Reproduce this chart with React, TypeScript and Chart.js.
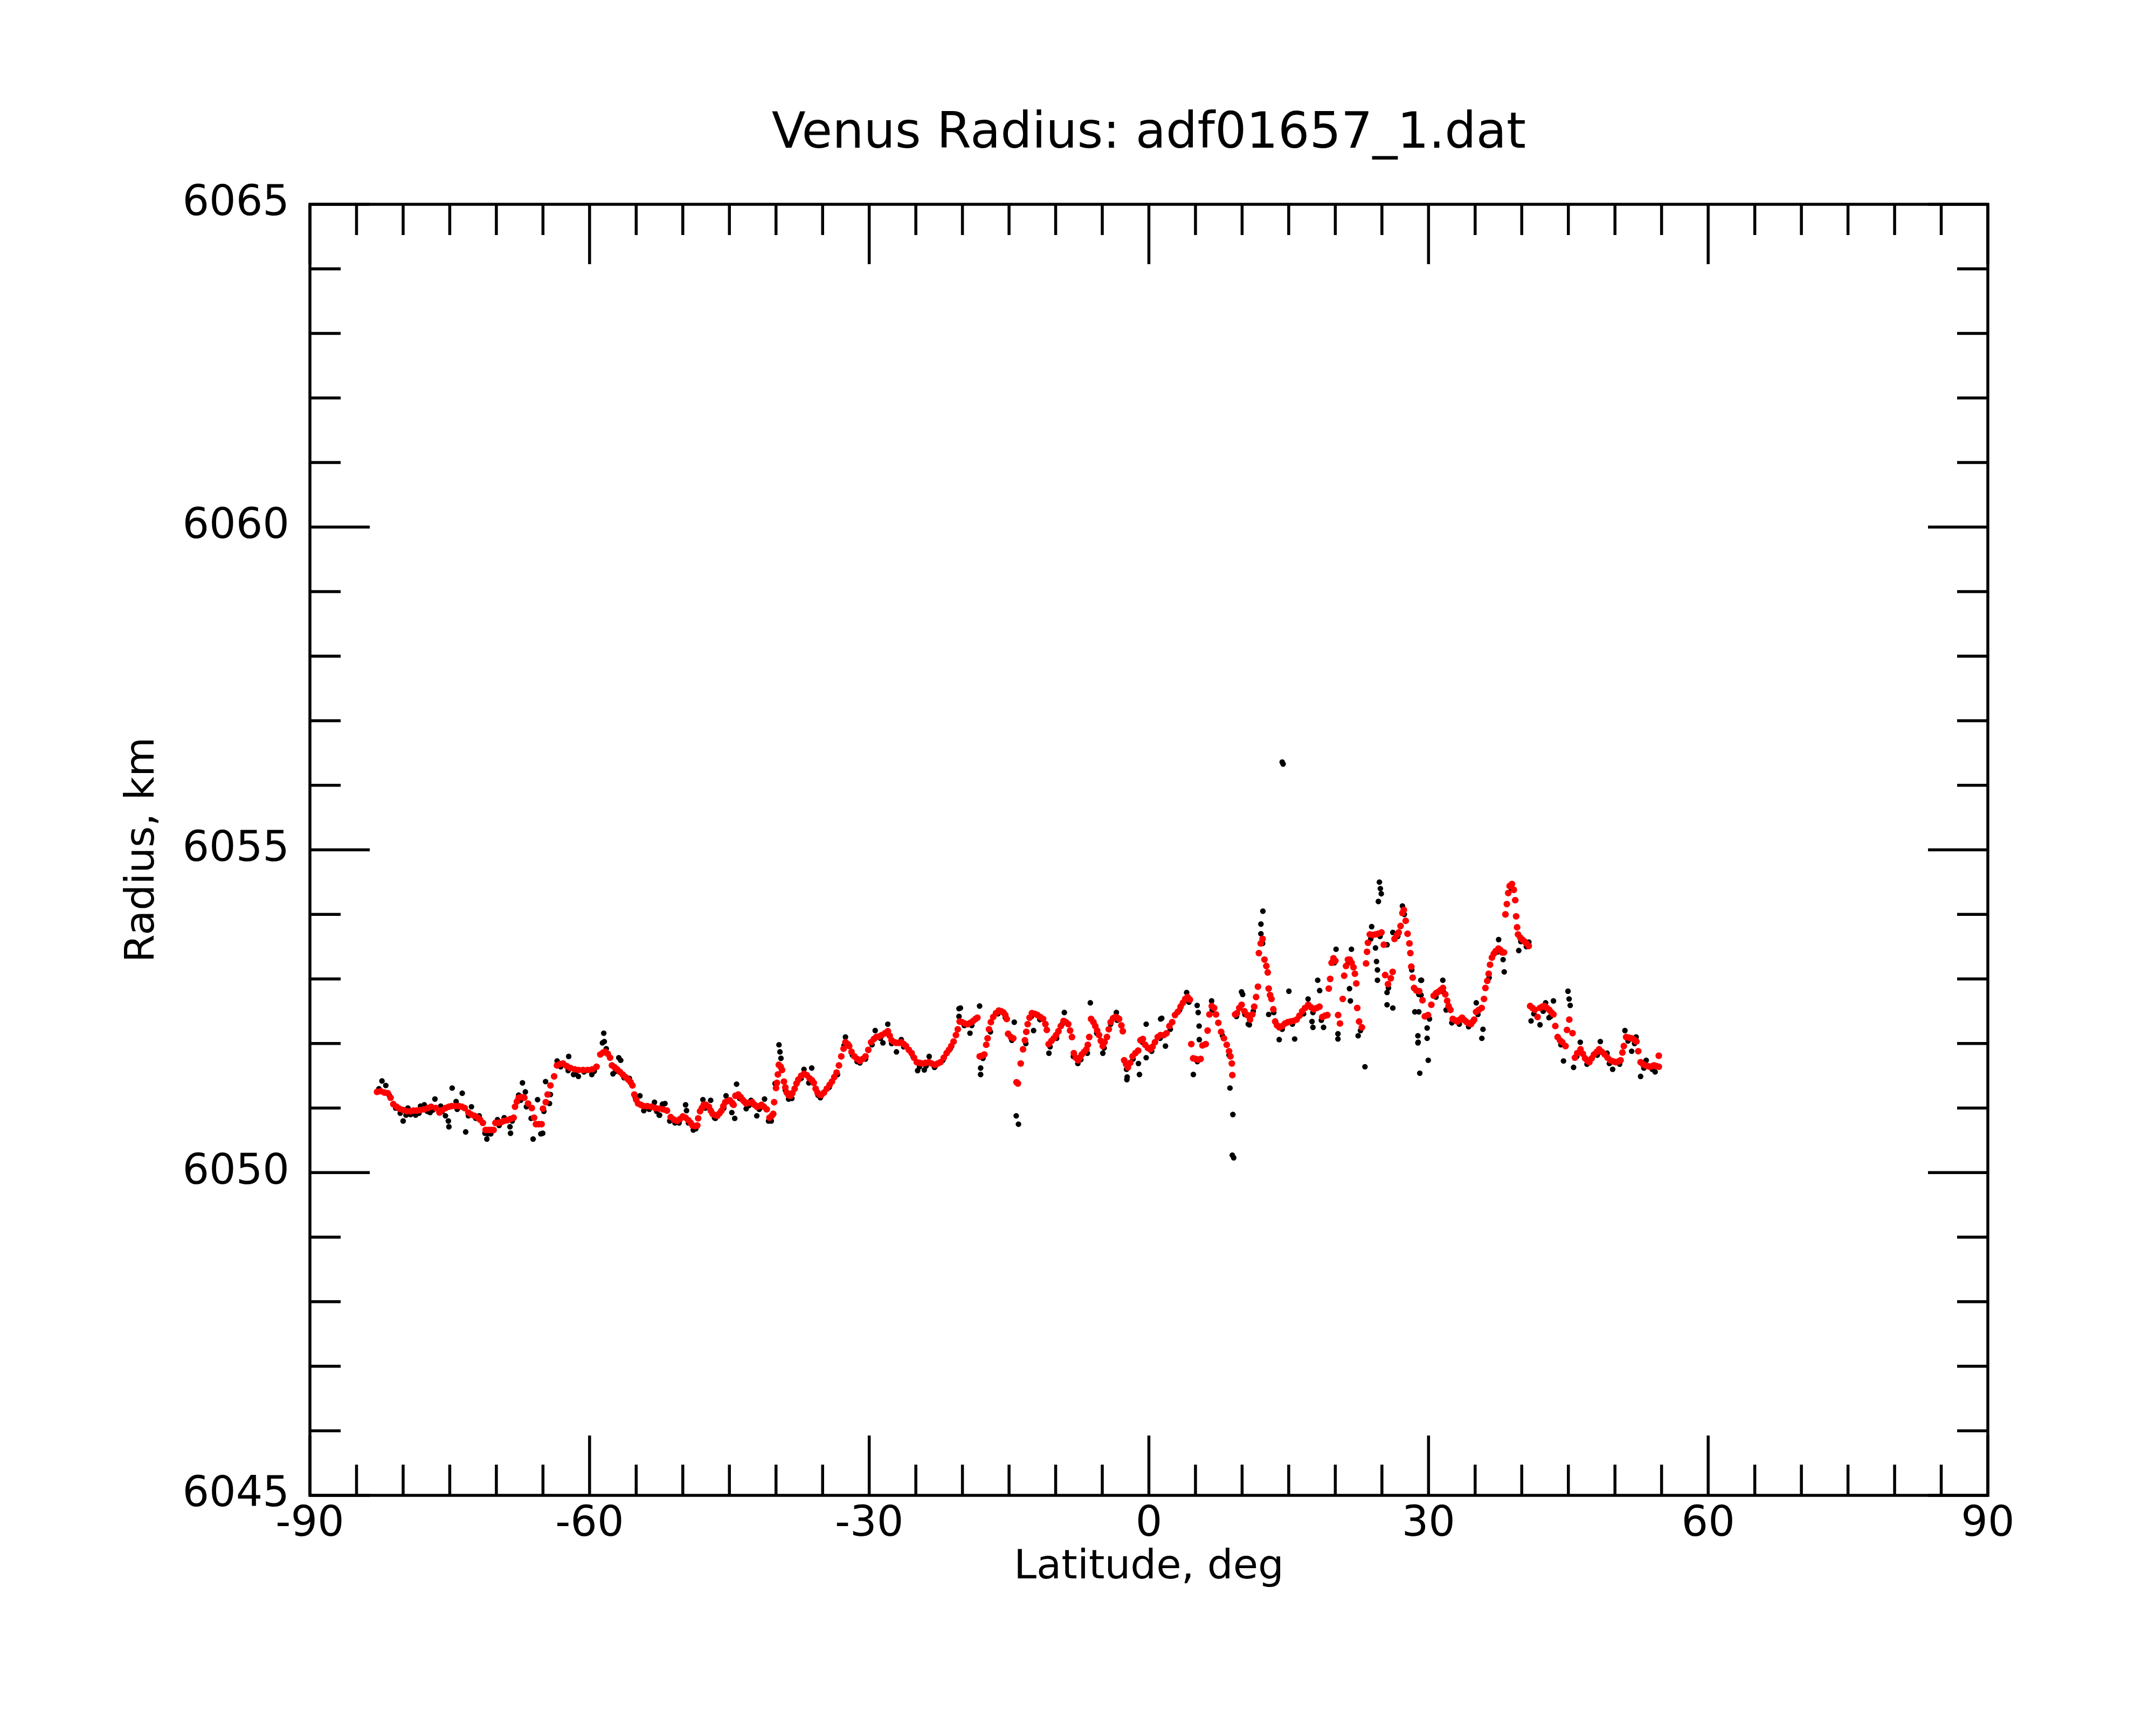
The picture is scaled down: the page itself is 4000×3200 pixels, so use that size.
import { useEffect, useRef } from "react";
import { Chart, registerables } from "chart.js";

Chart.register(...registerables);

const TITLE = "Venus Radius: adf01657_1.dat";
const X_LABEL = "Latitude, deg";
const Y_LABEL = "Radius, km";

const LAT_MIN = -90;
const LAT_MAX = 90;
const R_MIN = 6045;
const R_MAX = 6065;
const X_MAJOR = 30;
const X_MINOR = 5;
const Y_MAJOR = 5;
const Y_MINOR = 1;

// smoothed profile (red) [latitude, radius]
const smoothed: [number, number][] = [
  [-82.8, 6051.25], [-82.4, 6051.26], [-82.0, 6051.24], [-81.65, 6051.23], [-81.35, 6051.16],
  [-81.05, 6051.06], [-80.7, 6051.02], [-80.4, 6050.99], [-80.0, 6050.97], [-79.6, 6050.95],
  [-79.2, 6050.95], [-78.9, 6050.96], [-78.55, 6050.96], [-78.15, 6050.97], [-77.75, 6050.98],
  [-77.35, 6051.0], [-77.0, 6051.02], [-76.5, 6051.0], [-76.1, 6050.93], [-75.8, 6050.97],
  [-75.45, 6051.0], [-75.1, 6051.02], [-74.8, 6051.03], [-74.4, 6051.03], [-74.0, 6051.03],
  [-73.7, 6051.02], [-73.4, 6051.0], [-73.0, 6050.93], [-72.7, 6050.9], [-72.35, 6050.88],
  [-72.0, 6050.85], [-71.75, 6050.82], [-71.45, 6050.77], [-71.15, 6050.66], [-70.85, 6050.66],
  [-70.55, 6050.66], [-70.3, 6050.66], [-70.1, 6050.77], [-69.8, 6050.77], [-69.5, 6050.78],
  [-69.2, 6050.8], [-68.85, 6050.81], [-68.5, 6050.83], [-68.15, 6050.85], [-68.0, 6051.02],
  [-67.8, 6051.1], [-67.6, 6051.16], [-67.3, 6051.17], [-67.0, 6051.16], [-66.6, 6051.07],
  [-66.2, 6051.0], [-65.95, 6050.85], [-65.75, 6050.75], [-65.45, 6050.75], [-65.15, 6050.75],
  [-65.0, 6050.99], [-64.7, 6051.09], [-64.5, 6051.21], [-64.2, 6051.35], [-63.8, 6051.49],
  [-63.5, 6051.66], [-63.2, 6051.68], [-62.85, 6051.69], [-62.45, 6051.65], [-62.05, 6051.62],
  [-61.6, 6051.6], [-61.2, 6051.59], [-60.7, 6051.59], [-60.2, 6051.59], [-59.7, 6051.6],
  [-59.25, 6051.64], [-58.85, 6051.83], [-58.55, 6051.86], [-58.3, 6051.87], [-58.05, 6051.84],
  [-57.8, 6051.78], [-57.6, 6051.66], [-57.3, 6051.63], [-57.05, 6051.6], [-56.75, 6051.56],
  [-56.45, 6051.52], [-56.15, 6051.48], [-55.85, 6051.44], [-55.6, 6051.4], [-55.4, 6051.35],
  [-55.2, 6051.21], [-55.0, 6051.13], [-54.8, 6051.07], [-54.5, 6051.05], [-54.2, 6051.03],
  [-53.8, 6051.03], [-53.35, 6051.02], [-52.95, 6051.0], [-52.55, 6050.99], [-52.1, 6050.98],
  [-51.7, 6050.96], [-51.3, 6050.86], [-50.95, 6050.82], [-50.6, 6050.8], [-50.3, 6050.83],
  [-50.0, 6050.87], [-49.7, 6050.85], [-49.4, 6050.81], [-49.15, 6050.77], [-48.95, 6050.73],
  [-48.7, 6050.72], [-48.45, 6050.73], [-48.35, 6050.84], [-48.15, 6050.95], [-47.95, 6051.0],
  [-47.75, 6051.05], [-47.5, 6051.05], [-47.2, 6051.02], [-47.0, 6050.96], [-46.8, 6050.91],
  [-46.55, 6050.89], [-46.3, 6050.88], [-46.05, 6050.92], [-45.85, 6050.96], [-45.65, 6051.03],
  [-45.45, 6051.09], [-45.2, 6051.11], [-44.95, 6051.12], [-44.7, 6051.08], [-44.55, 6051.05],
  [-44.35, 6051.19], [-44.05, 6051.21], [-43.8, 6051.17], [-43.6, 6051.13], [-43.4, 6051.1],
  [-43.2, 6051.07], [-42.9, 6051.08], [-42.55, 6051.09], [-42.3, 6051.05], [-42.05, 6051.02],
  [-41.8, 6051.03], [-41.55, 6051.05], [-41.3, 6051.02], [-41.0, 6050.98], [-40.7, 6050.85],
  [-40.45, 6050.88], [-40.3, 6050.91], [-40.2, 6051.09], [-40.0, 6051.31], [-39.9, 6051.39],
  [-39.8, 6051.52], [-39.7, 6051.67], [-39.5, 6051.64], [-39.35, 6051.59], [-39.15, 6051.41],
  [-39.0, 6051.32], [-38.85, 6051.24], [-38.65, 6051.2], [-38.45, 6051.19], [-38.25, 6051.23],
  [-38.0, 6051.3], [-37.8, 6051.38], [-37.6, 6051.44], [-37.3, 6051.5], [-37.0, 6051.53],
  [-36.7, 6051.51], [-36.4, 6051.46], [-36.15, 6051.43], [-35.95, 6051.39], [-35.75, 6051.3],
  [-35.55, 6051.24], [-35.35, 6051.21], [-35.15, 6051.2], [-34.85, 6051.24], [-34.55, 6051.3],
  [-34.25, 6051.36], [-34.0, 6051.41], [-33.75, 6051.48], [-33.5, 6051.55], [-33.25, 6051.66],
  [-33.0, 6051.8], [-32.75, 6051.92], [-32.55, 6052.02], [-32.3, 6051.99], [-32.15, 6051.96],
  [-31.9, 6051.87], [-31.6, 6051.8], [-31.3, 6051.76], [-31.0, 6051.73], [-30.7, 6051.76],
  [-30.4, 6051.8], [-30.1, 6051.9], [-29.8, 6052.02], [-29.5, 6052.07], [-29.25, 6052.1],
  [-28.95, 6052.11], [-28.65, 6052.13], [-28.3, 6052.16], [-28.0, 6052.19], [-27.8, 6052.12],
  [-27.6, 6052.05], [-27.3, 6052.02], [-27.1, 6052.01], [-26.8, 6052.01], [-26.55, 6052.02],
  [-26.3, 6051.99], [-26.05, 6051.96], [-25.75, 6051.9], [-25.45, 6051.85], [-25.2, 6051.78],
  [-24.9, 6051.71], [-24.6, 6051.7], [-24.3, 6051.69], [-23.95, 6051.7], [-23.6, 6051.71],
  [-23.3, 6051.69], [-22.95, 6051.67], [-22.65, 6051.69], [-22.35, 6051.71], [-22.0, 6051.78],
  [-21.7, 6051.85], [-21.45, 6051.9], [-21.2, 6051.96], [-20.95, 6052.03], [-20.7, 6052.13],
  [-20.5, 6052.22], [-20.3, 6052.34], [-20.05, 6052.33], [-19.75, 6052.31], [-19.45, 6052.3],
  [-19.15, 6052.32], [-18.85, 6052.35], [-18.6, 6052.38], [-18.4, 6052.4], [-18.15, 6051.8],
  [-17.9, 6051.81], [-17.65, 6051.83], [-17.45, 6051.98], [-17.3, 6052.08], [-17.15, 6052.22],
  [-16.95, 6052.33], [-16.7, 6052.41], [-16.4, 6052.47], [-16.1, 6052.51], [-15.85, 6052.5],
  [-15.6, 6052.48], [-15.4, 6052.44], [-15.25, 6052.38], [-15.1, 6052.15], [-14.8, 6052.1],
  [-14.55, 6052.08], [-14.2, 6051.4], [-14.05, 6051.38], [-13.75, 6051.69], [-13.5, 6051.91],
  [-13.3, 6052.05], [-13.15, 6052.18], [-13.0, 6052.3], [-12.8, 6052.4], [-12.55, 6052.47],
  [-12.25, 6052.46], [-11.95, 6052.44], [-11.65, 6052.41], [-11.35, 6052.38], [-11.1, 6052.3],
  [-10.95, 6052.21], [-10.75, 6051.99], [-10.45, 6052.04], [-10.2, 6052.08], [-9.95, 6052.13],
  [-9.7, 6052.19], [-9.45, 6052.27], [-9.15, 6052.35], [-8.9, 6052.33], [-8.65, 6052.3],
  [-8.45, 6052.2], [-8.25, 6052.1], [-8.05, 6051.85], [-7.85, 6051.78], [-7.6, 6051.74],
  [-7.4, 6051.78], [-7.2, 6051.83], [-6.95, 6051.87], [-6.7, 6051.91], [-6.55, 6051.98],
  [-6.4, 6052.1], [-6.2, 6052.38], [-5.95, 6052.33], [-5.75, 6052.27], [-5.55, 6052.2],
  [-5.35, 6052.13], [-5.15, 6052.04], [-4.95, 6051.96], [-4.75, 6052.02], [-4.5, 6052.1],
  [-4.3, 6052.22], [-4.1, 6052.33], [-3.85, 6052.39], [-3.6, 6052.41], [-3.4, 6052.4],
  [-3.2, 6052.38], [-2.95, 6052.28], [-2.8, 6052.19], [-2.65, 6051.74], [-2.45, 6051.68],
  [-2.25, 6051.63], [-2.0, 6051.7], [-1.75, 6051.8], [-1.45, 6051.85], [-1.15, 6051.89],
  [-0.9, 6052.05], [-0.65, 6052.07], [-0.4, 6051.98], [-0.1, 6051.93], [0.15, 6051.91],
  [0.4, 6051.95], [0.65, 6052.02], [0.95, 6052.1], [1.25, 6052.13], [1.6, 6052.13],
  [1.9, 6052.16], [2.2, 6052.27], [2.5, 6052.33], [2.8, 6052.44], [3.1, 6052.49],
  [3.4, 6052.57], [3.65, 6052.63], [3.9, 6052.69], [4.15, 6052.72], [4.4, 6052.68],
  [4.55, 6051.99], [4.75, 6051.77], [5.0, 6051.76], [5.3, 6051.75], [5.55, 6051.76],
  [5.75, 6051.97], [6.1, 6051.99], [6.3, 6052.2], [6.5, 6052.45], [6.75, 6052.58],
  [7.0, 6052.55], [7.2, 6052.45], [7.45, 6052.32], [7.75, 6052.18], [8.05, 6052.08],
  [8.35, 6051.98], [8.6, 6051.88], [8.75, 6051.8], [8.9, 6051.69], [8.95, 6051.51],
  [9.25, 6052.45], [9.45, 6052.47], [9.7, 6052.55], [9.95, 6052.6], [10.25, 6052.5],
  [10.55, 6052.44], [10.85, 6052.37], [11.1, 6052.45], [11.3, 6052.57], [11.5, 6052.72],
  [11.7, 6052.88], [11.8, 6053.4], [12.0, 6053.55], [12.2, 6053.62], [12.4, 6053.3],
  [12.6, 6053.2], [12.75, 6053.1], [12.85, 6052.85], [13.0, 6052.75], [13.15, 6052.69],
  [13.35, 6052.53], [13.55, 6052.34], [13.75, 6052.28], [14.0, 6052.25], [14.3, 6052.27],
  [14.6, 6052.31], [14.9, 6052.33], [15.2, 6052.34], [15.5, 6052.35], [15.85, 6052.37],
  [16.15, 6052.43], [16.45, 6052.5], [16.75, 6052.55], [17.1, 6052.6], [17.4, 6052.56],
  [17.7, 6052.53], [18.0, 6052.55], [18.3, 6052.57], [18.6, 6052.41], [18.9, 6052.43],
  [19.15, 6052.44], [19.3, 6052.85], [19.45, 6053.0], [19.6, 6053.25], [19.8, 6053.32],
  [20.0, 6053.28], [20.3, 6052.44], [20.5, 6052.31], [20.8, 6052.69], [20.95, 6053.05],
  [21.15, 6053.2], [21.35, 6053.3], [21.55, 6053.3], [21.75, 6053.25], [21.95, 6053.18],
  [22.1, 6053.08], [22.25, 6052.93], [22.35, 6052.55], [22.55, 6052.34], [22.85, 6052.25],
  [23.3, 6053.24], [23.4, 6053.42], [23.5, 6053.56], [23.7, 6053.69], [24.0, 6053.68],
  [24.3, 6053.69], [24.6, 6053.7], [24.95, 6053.72], [25.2, 6053.53], [25.35, 6053.06],
  [25.65, 6052.92], [25.95, 6053.01], [26.15, 6053.11], [26.35, 6053.62], [26.6, 6053.68],
  [26.8, 6053.72], [27.0, 6053.82], [27.2, 6054.02], [27.35, 6054.07], [27.55, 6053.9],
  [27.75, 6053.7], [27.95, 6053.55], [28.05, 6053.4], [28.15, 6053.19], [28.3, 6053.02],
  [28.45, 6052.86], [28.7, 6052.82], [29.0, 6052.81], [29.35, 6052.67], [29.6, 6052.42],
  [29.95, 6052.44], [30.3, 6052.6], [30.55, 6052.74], [30.8, 6052.78], [31.05, 6052.8],
  [31.3, 6052.83], [31.55, 6052.86], [31.8, 6052.76], [32.0, 6052.66], [32.15, 6052.58],
  [32.35, 6052.52], [32.6, 6052.38], [32.85, 6052.36], [33.1, 6052.34], [33.35, 6052.37],
  [33.6, 6052.4], [33.85, 6052.36], [34.1, 6052.33], [34.35, 6052.31], [34.55, 6052.3],
  [34.75, 6052.34], [34.9, 6052.37], [35.1, 6052.49], [35.4, 6052.52], [35.7, 6052.55],
  [35.95, 6052.69], [36.1, 6052.86], [36.3, 6052.97], [36.45, 6053.08], [36.6, 6053.22],
  [36.8, 6053.33], [37.0, 6053.39], [37.2, 6053.43], [37.5, 6053.47], [37.7, 6053.45],
  [37.9, 6053.41], [38.1, 6053.41], [38.25, 6054.0], [38.4, 6054.16], [38.55, 6054.33],
  [38.7, 6054.44], [38.95, 6054.47], [39.15, 6054.38], [39.3, 6054.22], [39.4, 6053.97],
  [39.5, 6053.8], [39.6, 6053.69], [39.85, 6053.64], [40.05, 6053.61], [40.3, 6053.58],
  [40.5, 6053.55], [40.75, 6053.51], [40.9, 6052.58], [41.15, 6052.55], [41.4, 6052.52],
  [41.7, 6052.41], [41.95, 6052.55], [42.2, 6052.57], [42.45, 6052.58], [42.7, 6052.55],
  [42.95, 6052.52], [43.2, 6052.48], [43.4, 6052.45], [43.6, 6052.27], [43.85, 6052.1],
  [44.1, 6052.05], [44.35, 6052.02], [44.7, 6051.96], [44.85, 6052.21], [45.1, 6052.37],
  [45.45, 6052.16], [45.7, 6051.78], [45.95, 6051.85], [46.3, 6051.91], [46.55, 6051.84],
  [46.8, 6051.77], [47.05, 6051.73], [47.25, 6051.71], [47.5, 6051.77], [47.75, 6051.83],
  [48.05, 6051.87], [48.3, 6051.91], [48.6, 6051.87], [48.9, 6051.83], [49.2, 6051.78],
  [49.5, 6051.74], [49.85, 6051.72], [50.1, 6051.71], [50.35, 6051.72], [50.6, 6051.74],
  [50.8, 6051.86], [50.95, 6051.96], [51.2, 6052.1], [51.5, 6052.09], [51.8, 6052.08],
  [52.05, 6052.06], [52.3, 6052.03], [52.5, 6051.88], [52.75, 6051.71], [53.0, 6051.68],
  [53.25, 6051.66], [53.5, 6051.65], [53.75, 6051.64], [54.0, 6051.65], [54.2, 6051.66],
  [54.45, 6051.65], [54.7, 6051.64], [54.7, 6051.81],
];

// raw samples lying along the profile (black)
const rawTrack: [number, number][] = [
  [-81.5, 6051.2], [-80.8, 6051.0], [-79.2, 6050.9], [-78.3, 6050.92], [-77.4, 6050.95],
  [-76.8, 6050.97], [-75.8, 6050.95], [-74.2, 6050.98], [-73.0, 6050.88], [-72.2, 6050.84],
  [-70.9, 6050.6], [-69.7, 6050.73], [-68.3, 6050.8], [-67.4, 6051.12], [-64.9, 6050.95],
  [-63.1, 6051.64], [-62.3, 6051.58], [-61.5, 6051.55], [-60.6, 6051.56], [-59.5, 6051.57],
  [-57.2, 6051.57], [-56.3, 6051.47], [-55.1, 6051.17], [-53.6, 6050.98], [-52.8, 6050.95],
  [-51.4, 6050.8], [-50.4, 6050.77], [-49.4, 6050.77], [-48.6, 6050.68], [-47.6, 6051.0],
  [-46.6, 6050.85], [-45.6, 6051.0], [-44.7, 6051.06], [-43.9, 6051.15], [-42.9, 6051.04],
  [-41.8, 6050.98], [-40.8, 6050.8], [-39.0, 6051.28], [-38.3, 6051.15], [-37.3, 6051.46],
  [-35.5, 6051.2], [-34.3, 6051.32], [-33.4, 6051.52], [-32.7, 6051.97], [-31.8, 6051.82],
  [-31.3, 6051.72], [-30.4, 6051.76], [-29.7, 6051.98], [-28.8, 6052.08], [-27.6, 6052.0],
  [-26.3, 6051.95], [-25.3, 6051.8], [-24.6, 6051.64], [-23.9, 6051.65], [-23.0, 6051.63],
  [-22.1, 6051.74], [-21.3, 6051.92], [-19.8, 6052.28], [-19.0, 6052.28], [-17.8, 6051.77],
  [-17.0, 6052.18], [-16.2, 6052.46], [-15.4, 6052.4], [-14.7, 6052.05], [-13.2, 6052.0],
  [-12.6, 6052.42], [-11.7, 6052.37], [-10.6, 6051.95], [-9.9, 6052.08], [-9.3, 6052.3],
  [-8.1, 6051.8], [-7.3, 6051.75], [-6.6, 6051.85], [-5.6, 6052.16], [-4.8, 6051.93],
  [-4.1, 6052.3], [-3.4, 6052.36], [-2.4, 6051.6], [-1.7, 6051.76], [-0.7, 6052.02],
  [0.3, 6051.88], [1.2, 6052.08], [2.3, 6052.22], [3.3, 6052.52], [4.3, 6052.64],
  [5.2, 6051.72], [6.8, 6052.52], [7.9, 6052.12], [8.6, 6051.82], [9.4, 6052.42],
  [10.3, 6052.45], [11.2, 6052.5], [12.2, 6053.55], [13.4, 6052.48], [14.3, 6052.22],
  [15.4, 6052.3], [16.6, 6052.46], [17.6, 6052.48], [18.5, 6052.36], [19.9, 6053.25],
  [21.4, 6053.25], [22.7, 6052.2], [23.8, 6053.62], [24.8, 6053.66], [25.7, 6052.86],
  [26.7, 6053.66], [27.4, 6054.0], [28.2, 6053.14], [29.2, 6052.75], [30.1, 6052.38],
  [30.8, 6052.72], [31.6, 6052.8], [32.5, 6052.32], [33.3, 6052.3], [34.3, 6052.26],
  [35.3, 6052.45], [36.5, 6053.02], [37.4, 6053.42], [38.9, 6054.4], [39.9, 6053.58],
  [40.5, 6053.5], [41.3, 6052.46], [42.3, 6052.5], [43.1, 6052.42], [44.2, 6051.98],
  [45.9, 6051.8], [47.0, 6051.68], [48.1, 6051.82], [49.4, 6051.69], [50.5, 6051.68],
  [51.4, 6052.04], [52.1, 6052.0], [53.1, 6051.62], [54.0, 6051.6],
];

// raw samples scattered off the profile (black)
const rawScatter: [number, number][] = [
  [-82.6, 6051.3], [-82.27, 6051.42], [-81.86, 6051.35], [-80.31, 6050.92], [-80.0, 6050.8],
  [-79.69, 6050.89], [-79.49, 6051.0], [-78.66, 6050.89], [-78.14, 6051.03], [-77.73, 6051.05],
  [-77.11, 6050.93], [-76.59, 6051.14], [-75.97, 6051.03], [-75.46, 6050.88], [-75.15, 6050.8],
  [-75.09, 6050.71], [-74.74, 6051.31], [-74.32, 6051.1], [-73.66, 6051.23], [-73.29, 6050.63],
  [-72.67, 6051.02], [-71.84, 6050.88], [-71.22, 6050.61], [-71.02, 6050.52], [-70.6, 6050.6],
  [-69.88, 6050.82], [-69.16, 6050.85], [-68.54, 6050.71], [-68.48, 6050.61], [-67.61, 6051.2],
  [-67.2, 6051.39], [-66.89, 6051.25], [-66.78, 6051.02], [-66.27, 6050.84], [-66.06, 6050.52],
  [-65.58, 6051.13], [-65.23, 6050.6], [-65.03, 6050.61], [-64.72, 6051.41], [-64.3, 6051.07],
  [-64.2, 6051.21], [-63.48, 6051.73], [-62.24, 6051.8], [-61.72, 6051.52], [-61.2, 6051.49],
  [-59.76, 6051.52], [-58.62, 6052.01], [-58.48, 6052.16], [-58.42, 6052.03], [-58.21, 6051.92],
  [-57.49, 6051.53], [-56.87, 6051.78], [-56.66, 6051.74], [-56.14, 6051.48], [-55.73, 6051.46],
  [-54.6, 6051.19], [-54.18, 6050.96], [-53.04, 6051.09], [-52.53, 6050.89], [-52.49, 6050.89],
  [-52.18, 6051.06], [-51.91, 6051.07], [-50.84, 6050.77], [-49.7, 6051.05], [-49.6, 6050.96],
  [-48.87, 6050.66], [-47.84, 6051.13], [-47.01, 6051.12], [-46.5, 6050.84], [-45.36, 6051.19],
  [-44.74, 6050.93], [-44.43, 6050.84], [-44.23, 6051.37], [-43.2, 6050.99], [-42.68, 6051.12],
  [-42.06, 6050.88], [-41.23, 6051.14], [-40.51, 6050.8], [-40.1, 6051.38], [-39.68, 6051.98],
  [-39.58, 6051.87], [-39.47, 6051.77], [-38.65, 6051.14], [-37.0, 6051.6], [-36.48, 6051.39],
  [-36.17, 6051.62], [-35.24, 6051.16], [-32.55, 6052.1], [-31.0, 6051.7], [-29.36, 6052.2],
  [-28.53, 6052.01], [-28.01, 6052.3], [-27.08, 6051.87], [-26.56, 6052.06], [-24.81, 6051.58],
  [-24.09, 6051.59], [-23.57, 6051.8], [-22.95, 6051.64], [-20.37, 6052.54], [-20.37, 6052.42],
  [-20.22, 6052.55], [-19.19, 6052.16], [-18.16, 6052.58], [-18.05, 6051.62], [-18.05, 6051.52],
  [-14.44, 6052.33], [-14.23, 6050.88], [-13.99, 6050.75], [-12.37, 6052.2], [-10.72, 6051.85],
  [-9.07, 6052.48], [-7.62, 6051.69], [-6.28, 6052.63], [-4.94, 6051.85], [-3.49, 6052.48],
  [-2.36, 6051.44], [-2.33, 6051.48], [-1.12, 6051.69], [-1.01, 6051.52], [-0.29, 6052.3],
  [-0.29, 6051.78], [1.26, 6052.38], [1.38, 6052.39], [1.78, 6051.96], [4.05, 6052.79],
  [4.77, 6051.52], [5.18, 6052.59], [5.29, 6052.48], [5.39, 6052.27], [5.41, 6052.06],
  [6.73, 6052.66], [8.7, 6051.31], [9.01, 6050.9], [8.95, 6050.27], [9.1, 6050.23],
  [9.94, 6052.8], [10.06, 6052.76], [10.66, 6052.3], [10.78, 6052.29], [12.02, 6053.85],
  [12.02, 6053.7], [12.23, 6054.05], [12.85, 6052.45], [13.98, 6052.06], [14.3, 6056.36],
  [14.4, 6056.33], [15.02, 6052.81], [15.64, 6052.07], [17.08, 6052.69], [17.5, 6052.34],
  [17.6, 6052.25], [18.11, 6052.98], [18.32, 6052.82], [18.74, 6052.25], [20.08, 6053.46],
  [20.28, 6052.15], [20.28, 6052.07], [21.52, 6052.85], [21.62, 6052.66], [21.73, 6053.46],
  [22.45, 6052.12], [23.18, 6051.64], [23.9, 6053.81], [24.31, 6053.48], [24.42, 6053.27],
  [24.52, 6053.14], [24.52, 6052.98], [24.62, 6054.2], [24.73, 6054.5], [24.83, 6054.4],
  [24.93, 6054.32], [25.55, 6052.79], [25.55, 6052.6], [25.55, 6053.53], [26.17, 6052.55],
  [26.17, 6053.72], [27.2, 6054.13], [28.53, 6052.49], [28.86, 6052.12], [28.86, 6052.01],
  [28.89, 6052.02], [28.96, 6052.76], [28.96, 6052.49], [29.06, 6051.54], [29.17, 6052.98],
  [29.25, 6052.98], [29.85, 6052.08], [29.85, 6052.24], [29.97, 6051.74], [31.53, 6052.98],
  [31.89, 6052.52], [35.12, 6052.63], [35.72, 6052.08], [35.84, 6052.22], [37.52, 6053.61],
  [38.0, 6053.3], [38.12, 6053.11], [39.68, 6053.44], [40.76, 6053.57], [41.0, 6052.35],
  [41.96, 6052.29], [42.56, 6052.63], [42.92, 6052.4], [43.4, 6052.66], [44.48, 6051.73],
  [44.96, 6052.81], [45.08, 6052.69], [45.2, 6052.59], [45.56, 6051.63], [46.28, 6052.02],
  [48.43, 6052.03], [49.15, 6051.85], [49.75, 6051.6], [51.07, 6052.2], [51.79, 6051.88],
  [52.27, 6052.1], [52.75, 6051.49], [53.35, 6051.74], [54.31, 6051.56],
];

const FONT = "'DejaVu Sans', sans-serif";
const MAJOR_LEN = 111;
const MINOR_LEN = 57;
const FRAME_W = 5.5;

// inward tick marks on all four sides plus the box
const frameTicks = {
  id: "frameTicks",
  afterDatasetsDraw(chart: any) {
    const { ctx, chartArea: a, scales } = chart;
    const xs = scales.x;
    const ys = scales.y;
    ctx.save();
    ctx.strokeStyle = "#000";
    ctx.lineWidth = FRAME_W;
    ctx.beginPath();
    for (let v = LAT_MIN; v <= LAT_MAX; v += X_MINOR) {
      const px = xs.getPixelForValue(v);
      const len = v % X_MAJOR === 0 ? MAJOR_LEN : MINOR_LEN;
      ctx.moveTo(px, a.bottom);
      ctx.lineTo(px, a.bottom - len);
      ctx.moveTo(px, a.top);
      ctx.lineTo(px, a.top + len);
    }
    for (let v = R_MIN; v <= R_MAX; v += Y_MINOR) {
      const py = ys.getPixelForValue(v);
      const len = v % Y_MAJOR === 0 ? MAJOR_LEN : MINOR_LEN;
      ctx.moveTo(a.left, py);
      ctx.lineTo(a.left + len, py);
      ctx.moveTo(a.right, py);
      ctx.lineTo(a.right - len, py);
    }
    ctx.stroke();
    ctx.lineJoin = "miter";
    ctx.strokeRect(a.left, a.top, a.right - a.left, a.bottom - a.top);
    ctx.restore();
  },
};

export default function App() {
  const canvasRef = useRef<HTMLCanvasElement>(null);
  const chartRef = useRef<Chart | null>(null);

  useEffect(() => {
    if (!canvasRef.current) return;
    if (chartRef.current) chartRef.current.destroy();

    const toPoints = (list: [number, number][]) => list.map(([x, y]) => ({ x, y }));

    chartRef.current = new Chart(canvasRef.current, {
      type: "scatter",
      data: {
        datasets: [
          {
            label: "smoothed",
            data: toPoints(smoothed),
            pointRadius: 6.2,
            pointBorderWidth: 0,
            pointBackgroundColor: "#ff0000",
            order: 0,
          },
          {
            label: "raw",
            data: toPoints([...rawTrack, ...rawScatter]),
            pointRadius: 5.2,
            pointBorderWidth: 0,
            pointBackgroundColor: "#000000",
            order: 1,
          },
        ],
      },
      options: {
        animation: false,
        responsive: false,
        devicePixelRatio: 1,
        layout: { padding: { left: 0, right: 312, top: 0, bottom: 0 } },
        plugins: {
          legend: { display: false },
          tooltip: { enabled: false },
          title: {
            display: true,
            text: TITLE,
            fullSize: false,
            color: "#000",
            font: { family: FONT, size: 92, weight: "normal", lineHeight: 1.2 },
            padding: { top: 195, bottom: 73.6 },
          },
        },
        scales: {
          x: {
            type: "linear",
            position: "bottom",
            min: LAT_MIN,
            max: LAT_MAX,
            grid: { display: false, drawTicks: false },
            border: { display: false },
            ticks: {
              stepSize: X_MAJOR,
              autoSkip: false,
              maxRotation: 0,
              padding: 8,
              color: "#000",
              font: { family: FONT, size: 78 },
              callback: (v: any) => String(v),
            },
            title: {
              display: true,
              text: X_LABEL,
              color: "#000",
              font: { family: FONT, size: 75.5, lineHeight: 1.2 },
              padding: { top: 0, bottom: 246 },
            },
            afterFit: (scale: any) => {
              scale.height = 426;
            },
          },
          y: {
            type: "linear",
            position: "left",
            min: R_MIN,
            max: R_MAX,
            grid: { display: false, drawTicks: false },
            border: { display: false },
            ticks: {
              stepSize: Y_MAJOR,
              autoSkip: false,
              padding: 38,
              color: "#000",
              font: { family: FONT, size: 78 },
              callback: (v: any) => String(v),
            },
            title: {
              display: true,
              text: Y_LABEL,
              color: "#000",
              font: { family: FONT, size: 75.5, lineHeight: 1.2 },
              padding: { top: 220, bottom: 0 },
            },
            afterFit: (scale: any) => {
              scale.width = 575;
            },
          },
        },
      },
      plugins: [frameTicks],
    });

    return () => {
      if (chartRef.current) {
        chartRef.current.destroy();
        chartRef.current = null;
      }
    };
  }, []);

  return (
    <div
      style={{
        position: "absolute",
        left: 0,
        top: 0,
        width: "4000px",
        height: "3200px",
        background: "#ffffff",
      }}
    >
      <canvas ref={canvasRef} width={4000} height={3200} style={{ width: "4000px", height: "3200px" }} />
    </div>
  );
}
